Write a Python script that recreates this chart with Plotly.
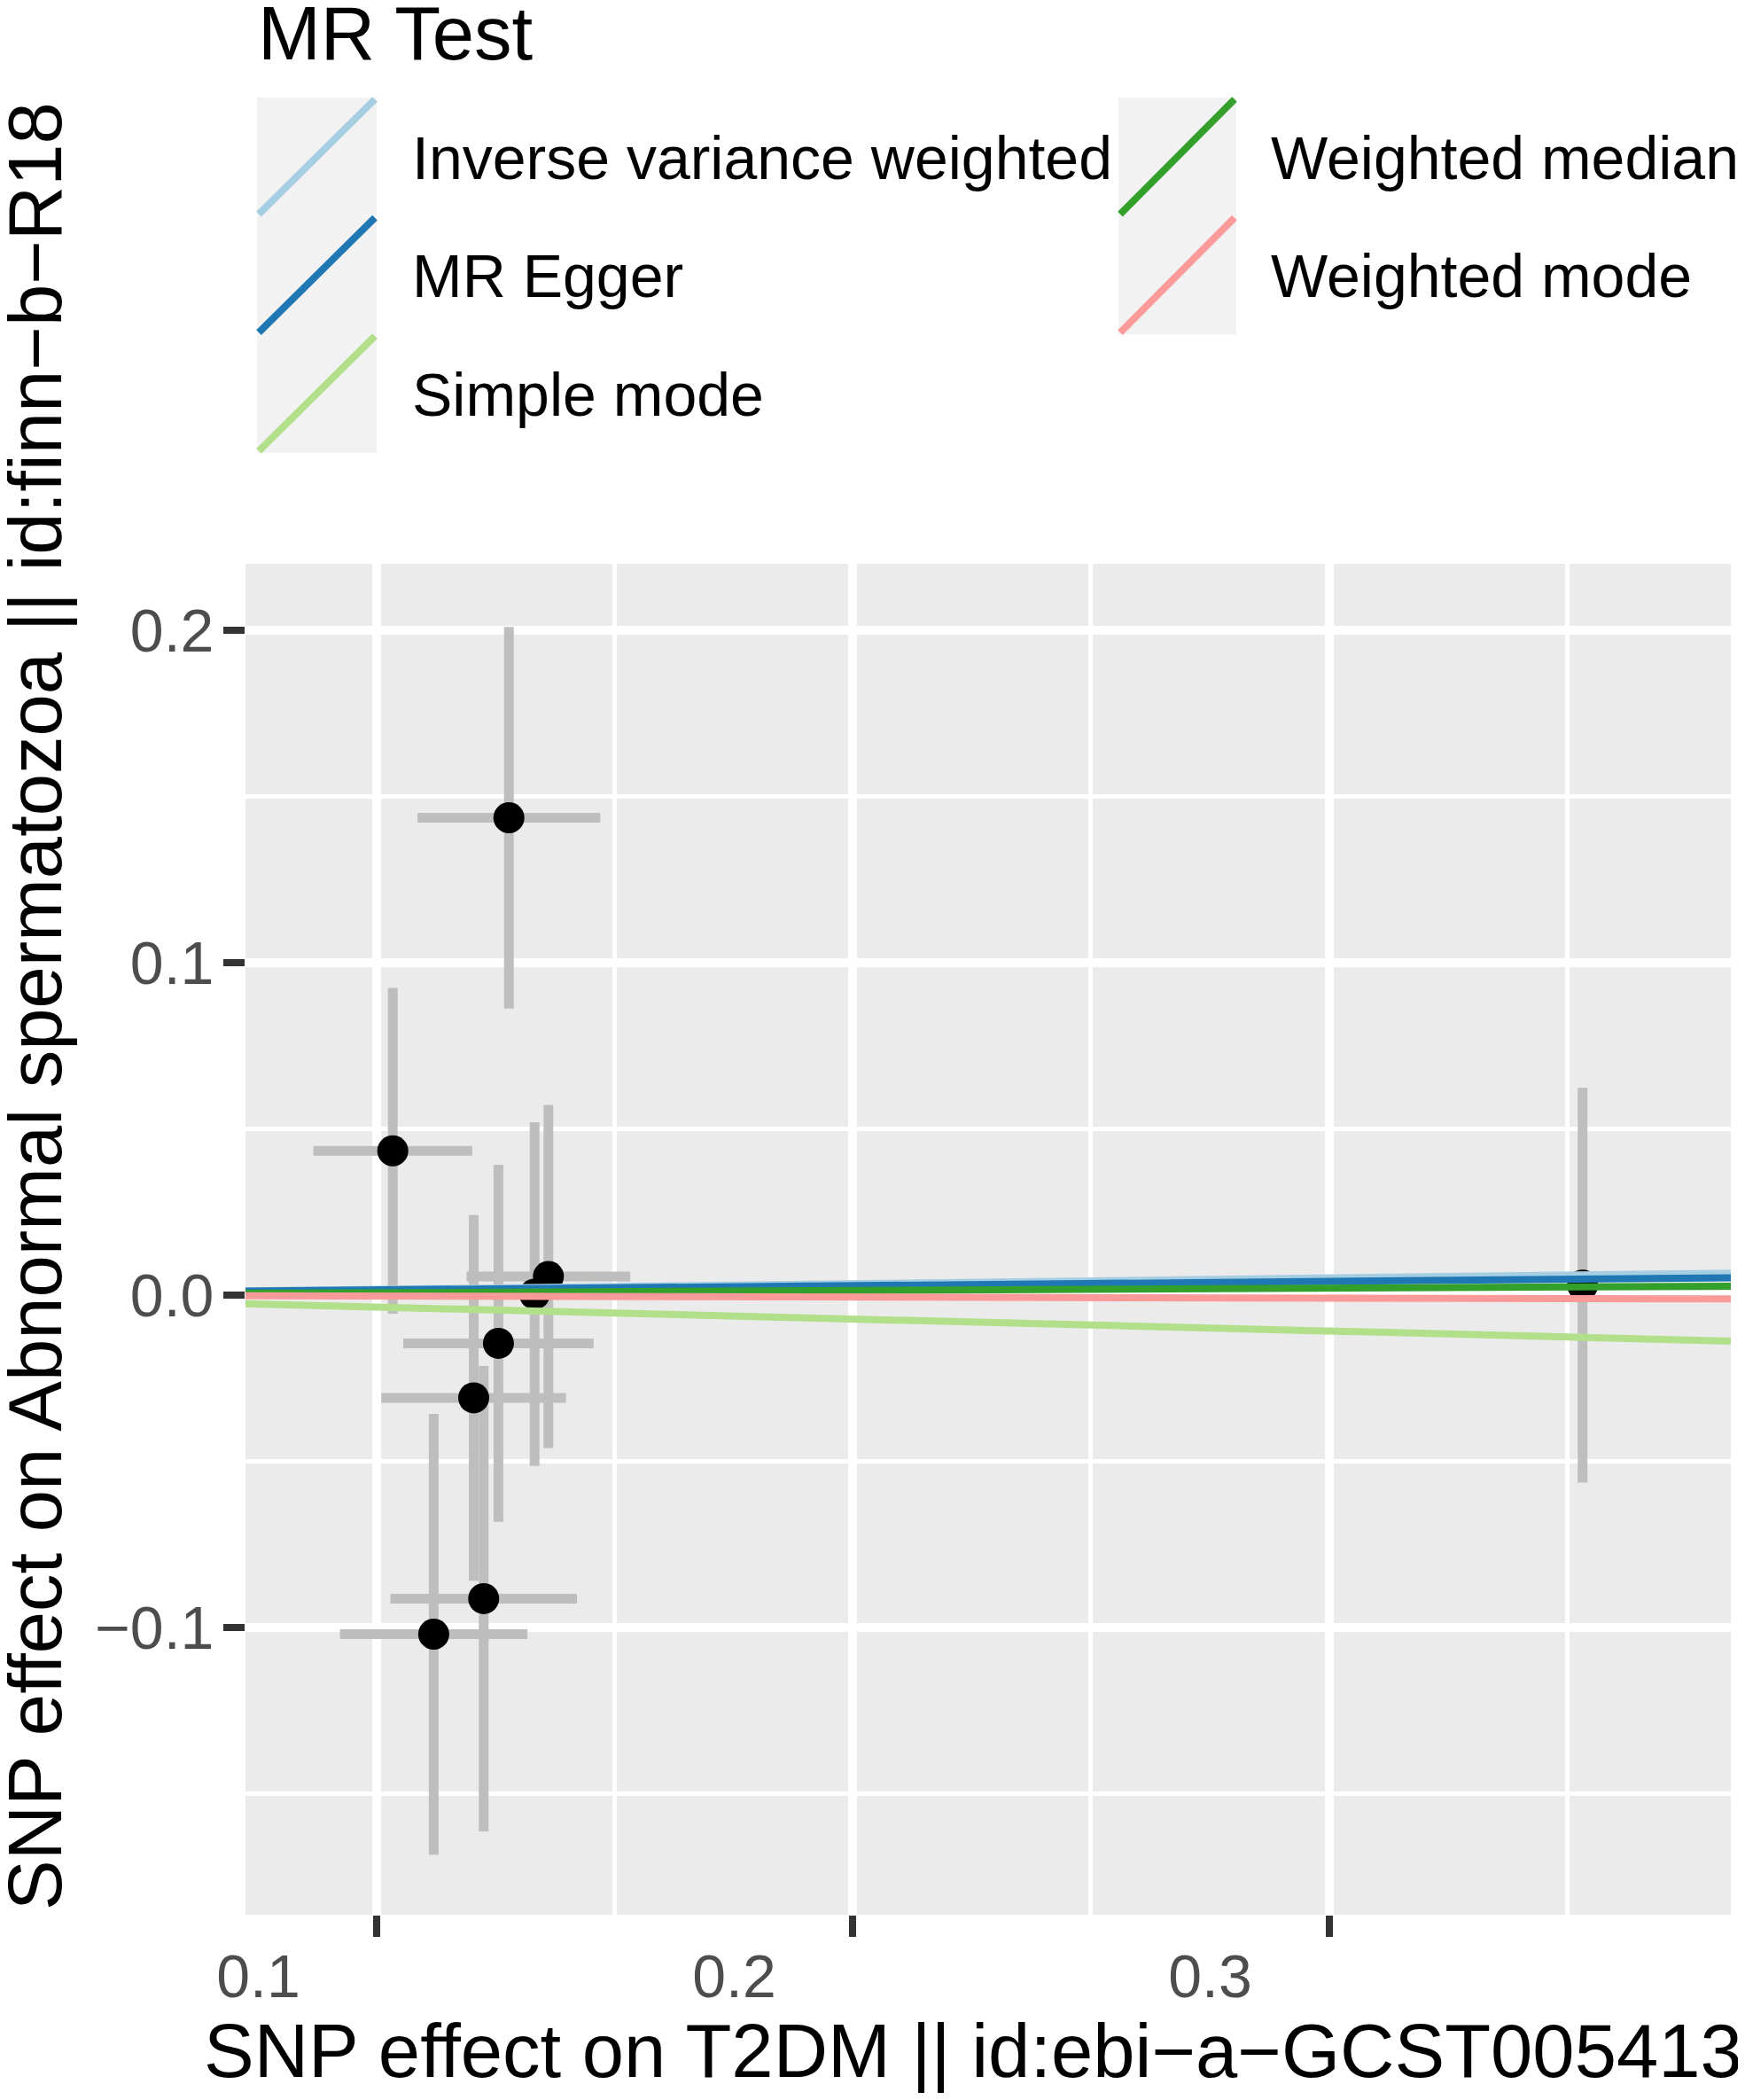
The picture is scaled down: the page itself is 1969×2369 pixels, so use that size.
import plotly.graph_objects as go

# SNP effects (exposure = T2DM, outcome = abnormal spermatozoa)
beta_exp = [0.1277, 0.1033, 0.1360, 0.1331, 0.1255, 0.1203, 0.1224, 0.1119, 0.3533]
se_exp = [0.0192, 0.0167, 0.0172, 0.0172, 0.0200, 0.0194, 0.0196, 0.0197, 0.0025]
beta_out = [0.1436, 0.0434, 0.0056, 0.0003, -0.0145, -0.0309, -0.0913, -0.1020, 0.0030]
se_out = [0.0574, 0.0490, 0.0516, 0.0517, 0.0537, 0.0550, 0.0700, 0.0663, 0.0594]

# MR method fits
methods = ["Inverse variance weighted", "MR Egger", "Simple mode",
           "Weighted median", "Weighted mode"]
slopes = [0.0172, 0.0127, -0.0360, 0.0070, -0.0030]
intercepts = [0.0, 0.0003, 0.0, 0.0, 0.0]
colors = ["#A6CEE3", "#1F78B4", "#B2DF8A", "#33A02C", "#FB9A99"]

x_ticks = [0.1, 0.2, 0.3]
y_ticks = [-0.1, 0.0, 0.1, 0.2]

W, H = 1969, 2369
# page body has an 8px margin, so figure coords are screen coords - 8
PL, PR, PT, PB = 269, 1945, 628, 2152
xr = [0.07235, 0.38445]
yr = [-0.1864, 0.22]
FONT = "Liberation Sans, Arial, sans-serif"


def px(x):
    return (x - PL) / (PR - PL)


def py(y):
    return (PB - y) / (PB - PT)


fig = go.Figure()

fig.add_trace(go.Scatter(
    x=beta_exp, y=beta_out, mode="markers",
    marker=dict(color="black", size=35),
    error_x=dict(type="data", array=se_exp, color="#BEBEBE", thickness=11, width=0),
    error_y=dict(type="data", array=se_out, color="#BEBEBE", thickness=11, width=0),
    showlegend=False,
))

for name, b, a, c in zip(methods, slopes, intercepts, colors):
    fig.add_trace(go.Scatter(
        x=xr, y=[a + b * xr[0], a + b * xr[1]], mode="lines",
        line=dict(color=c, width=8), name=name, showlegend=False,
    ))

# legend drawn by hand, ggplot style (diagonal keys on grey boxes)
key_cols = [(282, 417, 455), (1254, 1387, 1424)]
row_h = 133.6
top0 = 102
shapes = []
annotations = []
for i, (name, c) in enumerate(zip(methods, colors)):
    col, row = divmod(i, 3)
    kx0, kx1, tx = key_cols[col]
    y0 = top0 + row * row_h
    y1 = y0 + row_h
    shapes.append(dict(type="rect", xref="paper", yref="paper",
                       x0=px(kx0), x1=px(kx1), y0=py(y1), y1=py(y0),
                       fillcolor="#F2F2F2", line=dict(width=0), layer="below"))
    shapes.append(dict(type="line", xref="paper", yref="paper",
                       x0=px(kx0 + 2), x1=px(kx1 - 2), y0=py(y1 - 2), y1=py(y0 + 2),
                       line=dict(color=c, width=8)))
    annotations.append(dict(text=name, xref="paper", yref="paper",
                            x=px(tx), y=py((y0 + y1) / 2 + 1), xanchor="left", yanchor="middle",
                            showarrow=False, font=dict(size=68, color="black", family=FONT)))

annotations.append(dict(text="MR Test", xref="paper", yref="paper",
                        x=px(281), y=py(30), xanchor="left", yanchor="middle",
                        showarrow=False, font=dict(size=85, color="black", family=FONT)))
annotations.append(dict(text="SNP effect on T2DM || id:ebi\u2212a\u2212GCST005413",
                        xref="paper", yref="paper", x=px(1090), y=py(2305),
                        xanchor="center", yanchor="middle", showarrow=False,
                        font=dict(size=85, color="black", family=FONT)))
annotations.append(dict(text="SNP effect on Abnormal spermatozoa || id:finn\u2212b\u2212R18",
                        xref="paper", yref="paper", x=px(31), y=py(1127), textangle=-90,
                        xanchor="center", yanchor="middle", showarrow=False,
                        font=dict(size=85, color="black", family=FONT)))

axis_common = dict(
    showline=False, zeroline=False, showgrid=True, gridcolor="white", gridwidth=10,
    ticks="outside", ticklen=24, tickwidth=8, tickcolor="#333333",
    tickfont=dict(size=68, color="#4D4D4D", family=FONT),
)

fig.update_layout(
    width=W, height=H,
    margin=dict(l=PL, r=W - PR, t=PT, b=H - PB),
    paper_bgcolor="white", plot_bgcolor="#EBEBEB",
    xaxis=dict(range=xr, tickvals=x_ticks, ticktext=[f"{v:.1f}" for v in x_ticks],
               ticklabelshift=-134, ticklabelstandoff=-14,
               minor=dict(tickvals=[0.15, 0.25, 0.35], showgrid=True,
                          gridcolor="white", gridwidth=5, ticks=""),
               **axis_common),
    yaxis=dict(range=yr, tickvals=y_ticks,
               ticktext=["\u22120.1", "0.0", "0.1", "0.2"], ticklabelstandoff=-3,
               minor=dict(tickvals=[-0.15, -0.05, 0.05, 0.15], showgrid=True,
                          gridcolor="white", gridwidth=5, ticks=""),
               **axis_common),
    shapes=shapes, annotations=annotations,
)

fig.write_html("out.html")
